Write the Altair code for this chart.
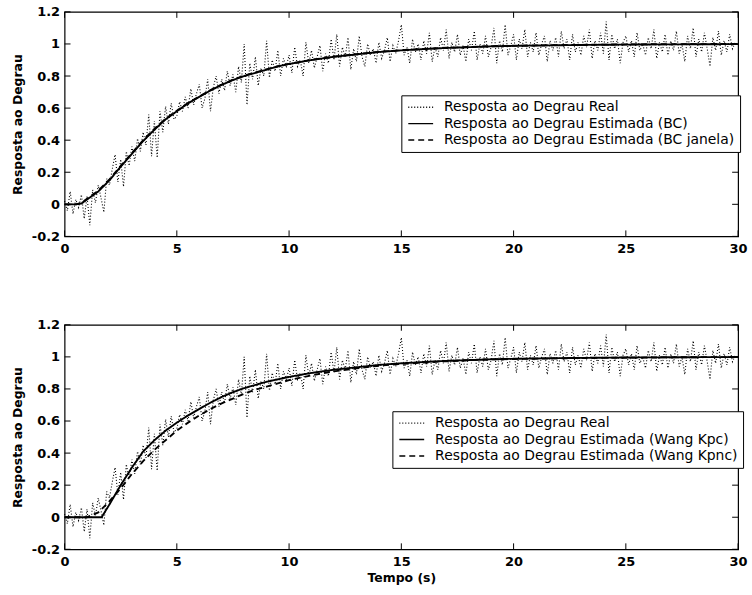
import altair as alt
import pandas as pd

x_ticks = [0, 5, 10, 15, 20, 25, 30]
y_ticks = [-0.2, 0, 0.2, 0.4, 0.6, 0.8, 1, 1.2]

y_real = [
    0.02, -0.04, 0.08, -0.06, 0.03, -0.02, 0.06, -0.09,
    0.05, -0.13, 0.09, 0.01, 0.12, 0.04, -0.05, 0.16,
    0.12, 0.22, 0.31, 0.14, 0.28, 0.11, 0.33, 0.24,
    0.36, 0.27, 0.41, 0.33, 0.45, 0.37, 0.56, 0.30,
    0.52, 0.29, 0.58, 0.45, 0.61, 0.50, 0.63, 0.53,
    0.55, 0.64, 0.58, 0.67, 0.60, 0.72, 0.62, 0.69,
    0.75, 0.60, 0.66, 0.78, 0.58, 0.73, 0.80, 0.69,
    0.78, 0.71, 0.83, 0.74, 0.81, 0.70, 0.86, 0.76,
    1.00, 0.62, 0.88, 0.78, 0.92, 0.74, 0.85, 0.80,
    1.02, 0.79, 0.90, 0.83, 0.96, 0.80, 0.91, 0.86,
    0.93, 0.82, 0.98, 0.86, 0.90, 0.80, 1.01, 0.88,
    0.96, 0.85, 0.92, 0.99, 0.83, 0.94, 0.88, 1.03,
    0.90, 1.06, 0.86, 0.98, 0.92, 1.04, 0.84, 0.97,
    0.89, 1.05, 0.92, 0.86, 1.00, 0.93, 0.97, 0.88,
    1.01, 0.91, 0.96, 1.04, 0.89, 0.99, 0.94, 1.02,
    1.12, 0.93, 0.98, 0.88, 1.03, 0.95, 1.00, 0.90,
    1.02, 0.94, 1.07, 0.89, 0.98, 0.92, 1.04, 0.96,
    1.09, 0.91, 1.01, 0.95, 1.06, 0.93, 0.99, 0.89,
    1.03, 0.96, 1.08, 0.90, 1.00, 0.94, 1.05, 0.92,
    0.98, 1.10, 0.88, 1.02, 0.95, 1.12, 0.93, 0.99,
    1.06, 0.90, 1.03, 0.97, 1.09, 0.92, 1.01, 0.95,
    1.07, 0.93, 1.00, 1.05, 0.89, 1.02, 0.96, 1.04,
    0.92, 1.08, 0.97, 1.03, 0.90, 1.06, 0.95, 1.01,
    0.93, 1.05, 0.98, 1.09, 0.91, 1.02, 0.96, 1.07,
    0.94, 1.14, 0.90, 1.06, 0.97, 1.03, 0.88, 1.01,
    1.05, 0.95, 1.02, 0.92, 1.07, 0.96, 1.00, 0.93,
    1.04, 0.97, 1.09, 0.91, 1.01, 0.95, 1.06, 0.93,
    1.02, 0.96, 1.08, 0.94, 1.00, 0.89, 1.05, 0.97,
    1.10, 0.92, 1.03, 0.95, 1.07, 0.97, 0.86, 1.04,
    0.96, 1.08, 0.93, 1.02, 0.95, 1.06, 0.97, 1.01,
    0.99,
]
t_real = [round(0.125 * i, 3) for i in range(len(y_real))]

# estimated responses, top panel
t_top = [0, 0.5, 0.75, 1, 1.5, 2, 2.5, 3, 3.5, 4, 4.5, 5, 5.5, 6, 6.5, 7, 7.5, 8,
         8.5, 9, 9.5, 10, 11, 12, 13, 14, 15, 16, 17, 18, 19, 20, 22, 24, 26, 28, 30]
y_bc = [0, 0, 0.005, 0.03, 0.08, 0.15, 0.235, 0.315, 0.395, 0.465, 0.53, 0.58, 0.63,
        0.67, 0.71, 0.745, 0.775, 0.80, 0.82, 0.84, 0.86, 0.875, 0.90, 0.92, 0.935,
        0.95, 0.96, 0.968, 0.975, 0.98, 0.985, 0.988, 0.992, 0.995, 0.997, 0.998, 0.999]
y_bc_jan = [0, 0, 0.008, 0.035, 0.085, 0.155, 0.24, 0.32, 0.40, 0.47, 0.533, 0.583,
            0.632, 0.672, 0.712, 0.747, 0.777, 0.802, 0.822, 0.842, 0.861, 0.876, 0.901,
            0.921, 0.936, 0.951, 0.961, 0.969, 0.976, 0.981, 0.986, 0.989, 0.993, 0.996,
            0.998, 0.999, 1.0]

# estimated responses, bottom panel
t_bot = [0, 0.5, 1, 1.5, 1.65, 2, 2.5, 3, 3.5, 4, 4.5, 5, 5.5, 6, 6.5, 7, 7.5, 8,
         8.5, 9, 9.5, 10, 11, 12, 13, 14, 15, 16, 17, 18, 19, 20, 22, 24, 26, 28, 30]
y_kpc = [0, 0, 0, 0, 0, 0.08, 0.2, 0.31, 0.41, 0.48, 0.54, 0.59, 0.635, 0.675, 0.715,
         0.75, 0.78, 0.805, 0.825, 0.845, 0.86, 0.875, 0.90, 0.92, 0.935, 0.95, 0.96,
         0.968, 0.975, 0.98, 0.985, 0.988, 0.992, 0.995, 0.997, 0.998, 0.999]
y_kpnc = [0, 0, 0.0, 0.03, 0.05, 0.1, 0.18, 0.27, 0.35, 0.42, 0.48, 0.54, 0.59, 0.635,
          0.675, 0.71, 0.74, 0.77, 0.795, 0.815, 0.835, 0.855, 0.885, 0.91, 0.928, 0.945,
          0.956, 0.965, 0.973, 0.979, 0.984, 0.987, 0.991, 0.994, 0.996, 0.998, 0.999]

lab_real = "Resposta ao Degrau Real"
top_labels = [lab_real, "Resposta ao Degrau Estimada (BC)",
              "Resposta ao Degrau Estimada (BC janela)"]
bot_labels = [lab_real, "Resposta ao Degrau Estimada (Wang Kpc)",
              "Resposta ao Degrau Estimada (Wang Kpnc)"]

W, H = 678, 226
TICK = 6
FONT = "DejaVu Sans"


def panel(t_est, ya, yb, labels, lx, ly, x_title):
    real = pd.DataFrame({"t": t_real, "y": y_real, "s": labels[0]})
    est = pd.concat([
        pd.DataFrame({"t": t_est, "y": ya, "s": labels[1]}),
        pd.DataFrame({"t": t_est, "y": yb, "s": labels[2]}),
    ])
    xscale = alt.Scale(domain=[0, 30], nice=False, zero=False)
    yscale = alt.Scale(domain=[-0.2, 1.2], nice=False, zero=False)
    xaxis_kw = dict(values=x_ticks, tickSize=0, domain=False, grid=False,
                    labelFont=FONT, labelFontWeight="bold", labelFontSize=13,
                    labelPadding=6, labelFlush=False, labelColor="black",
                    titleFont=FONT, titleFontWeight="bold", titleFontSize=12.5,
                    titleColor="black", titlePadding=3)
    if x_title:
        xaxis = alt.Axis(title=x_title, **xaxis_kw)
    else:
        xaxis = alt.Axis(title=None, **xaxis_kw)
    yaxis = alt.Axis(values=y_ticks, tickSize=0, domain=False, grid=False,
                     labelFont=FONT, labelFontWeight="bold", labelFontSize=13,
                     labelPadding=5, labelColor="black",
                     labelExpr="replace(format(datum.value, '~g'), '\u2212', '-')",
                     title="Resposta ao Degrau", titleFont=FONT,
                     titleFontWeight="bold", titleFontSize=12.5,
                     titleColor="black", titlePadding=7)
    legend = alt.Legend(orient="none", legendX=lx, legendY=ly, title=None,
                        direction="vertical", strokeColor="black",
                        fillColor="white", padding=5, rowPadding=2.5,
                        symbolType="M-1,0H4", symbolSize=100,
                        symbolStrokeWidth=1.4, symbolStrokeColor="black",
                        labelFont=FONT, labelFontSize=14, labelOffset=24,
                        labelLimit=0, labelColor="black", cornerRadius=0)
    dash = alt.StrokeDash("s:N",
                          scale=alt.Scale(domain=labels,
                                          range=[[1, 2], [1, 0], [6, 4]]),
                          legend=legend)
    real_line = alt.Chart(real).mark_line(color="black", strokeWidth=1.1).encode(
        x=alt.X("t:Q", scale=xscale, axis=xaxis),
        y=alt.Y("y:Q", scale=yscale, axis=yaxis),
        strokeDash=dash,
    )
    est_line = alt.Chart(est).mark_line(color="black", strokeWidth=1.9).encode(
        x=alt.X("t:Q", scale=xscale, axis=xaxis),
        y=alt.Y("y:Q", scale=yscale, axis=yaxis),
        strokeDash=dash,
    )
    xt = pd.DataFrame({"t": x_ticks})
    yt = pd.DataFrame({"y": y_ticks})
    rx_b = alt.Chart(xt).mark_rule(color="black", strokeWidth=1).encode(
        x=alt.X("t:Q", scale=xscale, axis=xaxis),
        y=alt.value(H), y2=alt.value(H - TICK))
    rx_t = alt.Chart(xt).mark_rule(color="black", strokeWidth=1).encode(
        x=alt.X("t:Q", scale=xscale, axis=xaxis),
        y=alt.value(0), y2=alt.value(TICK))
    ry_l = alt.Chart(yt).mark_rule(color="black", strokeWidth=1).encode(
        y=alt.Y("y:Q", scale=yscale, axis=yaxis),
        x=alt.value(0), x2=alt.value(TICK))
    ry_r = alt.Chart(yt).mark_rule(color="black", strokeWidth=1).encode(
        y=alt.Y("y:Q", scale=yscale, axis=yaxis),
        x=alt.value(W), x2=alt.value(W - TICK))
    return alt.layer(real_line, est_line, rx_b, rx_t, ry_l, ry_r).properties(
        width=W, height=H)


top = panel(t_top, y_bc, y_bc_jan, top_labels, 339, 84, None)
bottom = panel(t_bot, y_kpc, y_kpnc, bot_labels, 330, 87, "Tempo (s)")

chart = alt.vconcat(top, bottom, spacing=62).resolve_scale(
    strokeDash="independent").resolve_legend(strokeDash="independent").properties(
    padding={"left": 10, "top": 3, "right": 4, "bottom": 4},
    background="white",
).configure_view(stroke="black", strokeWidth=1.2)

chart.save("out.html", embed_options={"renderer": "svg", "actions": False})
